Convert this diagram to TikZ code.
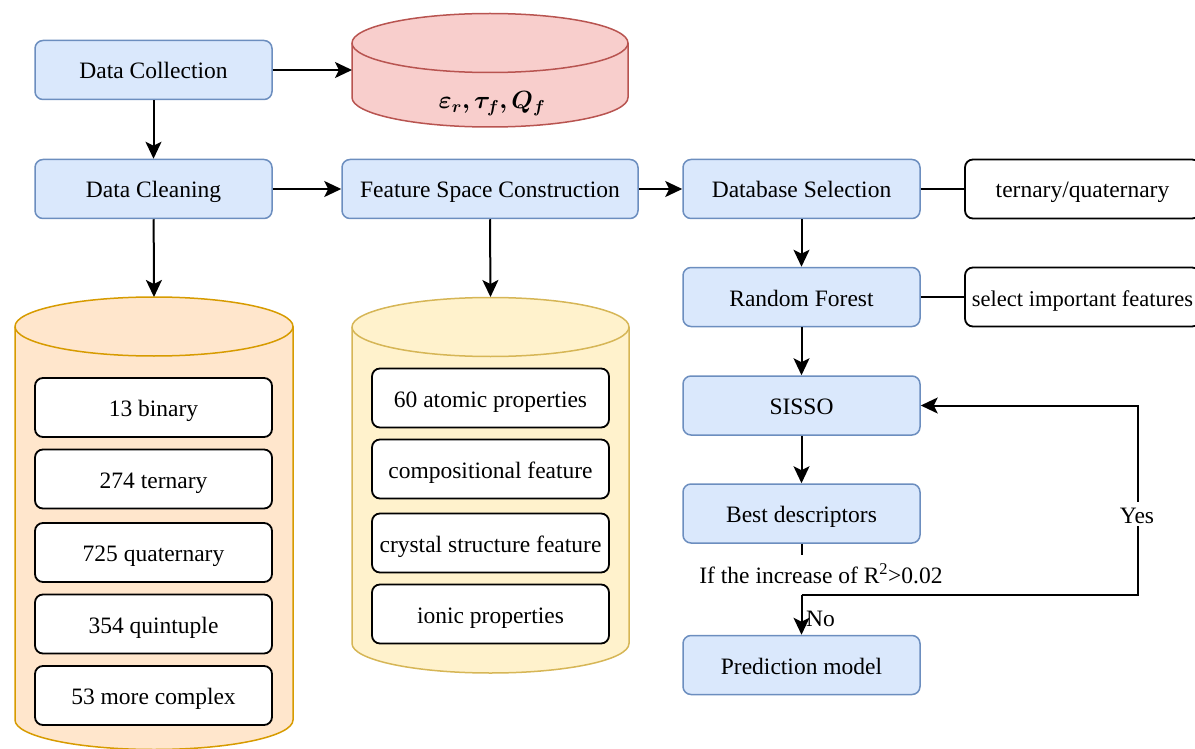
\documentclass[tikz,border=0pt]{standalone}
\usepackage{amsmath,bm}
\usepackage{fontspec}
\setmainfont{Liberation Serif}
\usetikzlibrary{arrows.meta}
\definecolor{bfill}{HTML}{DAE8FC}
\definecolor{bdraw}{HTML}{6C8EBF}
\definecolor{rfill}{HTML}{F8CECC}
\definecolor{rdraw}{HTML}{B85450}
\definecolor{ofill}{HTML}{FFE6CC}
\definecolor{odraw}{HTML}{D79B00}
\definecolor{yfill}{HTML}{FFF2CC}
\definecolor{ydraw}{HTML}{D6B656}
\tikzset{
  txt/.style={font=\fontsize{23.5}{28}\selectfont},
  bluebox/.style={txt, rounded corners=8, draw=bdraw, fill=bfill, line width=1.5,
    minimum width=237, minimum height=59, inner xsep=0, inner ysep=0,
    text height=19, text depth=1},
  whitebox/.style={txt, rounded corners=8, draw=black, fill=white, line width=1.8,
    minimum width=237, minimum height=59, inner xsep=0, inner ysep=0,
    text height=19, text depth=1},
  arr/.style={line width=2, -{Stealth[length=17pt, width=16pt, inset=4pt]}},
  ln/.style={line width=2},
}
\begin{document}
\begin{tikzpicture}[x=1pt,y=1pt]
\useasboundingbox (0,0) rectangle (1195,-749);

% cylinders
\filldraw[fill=rfill, draw=rdraw, line width=1.5] (352,-43) -- (352,-97.5)
  arc[start angle=180,end angle=360,x radius=138,y radius=29.5] -- (628,-43)
  arc[start angle=0,end angle=180,x radius=138,y radius=29.5] -- cycle;
\draw[rdraw, line width=1.5] (352,-43) arc[start angle=180,end angle=360,x radius=138,y radius=29.5];
\coordinate (redcyl) at (352,-70);
\node (redlabel) at (492,-104) {\fontsize{23.5}{28}\selectfont$\boldsymbol{\varepsilon_r,\tau_f,Q_f}$};

\filldraw[fill=ofill, draw=odraw, line width=1.5] (15,-326.5) -- (15,-720)
  arc[start angle=180,end angle=360,x radius=139,y radius=29.5] -- (293,-326.5)
  arc[start angle=0,end angle=180,x radius=139,y radius=29.5] -- cycle;
\draw[odraw, line width=1.5] (15,-326.5) arc[start angle=180,end angle=360,x radius=139,y radius=29.5];
\coordinate (orangetop) at (154,-297);

\filldraw[fill=yfill, draw=ydraw, line width=1.5] (352,-327) -- (352,-643.5)
  arc[start angle=180,end angle=360,x radius=138.5,y radius=29.5] -- (629,-327)
  arc[start angle=0,end angle=180,x radius=138.5,y radius=29.5] -- cycle;
\draw[ydraw, line width=1.5] (352,-327) arc[start angle=180,end angle=360,x radius=138.5,y radius=29.5];
\coordinate (yellowtop) at (490.5,-297);

% main boxes
\node[bluebox] (collect) at (153.5,-70) {Data Collection};
\node[bluebox] (clean) at (153.5,-189) {Data Cleaning};
\node[bluebox, minimum width=296] (fsc) at (490,-189) {Feature Space Construction};
\node[bluebox] (dbs) at (801.5,-189) {Database Selection};
\node[bluebox] (rf) at (801.5,-297) {Random Forest};
\node[bluebox] (sisso) at (801.5,-405.5) {SISSO};
\node[bluebox] (best) at (801.5,-513.5) {Best descriptors};
\node[bluebox] (pred) at (801.5,-665) {Prediction model};

\node[whitebox, minimum width=235] (tq) at (1082.5,-189) {ternary/quaternary};
\node[whitebox, minimum width=235, font=\fontsize{22.5}{27}\selectfont] (sif) at (1082.5,-297) {select important features};

% orange inner boxes
\node[whitebox] (b1) at (153.5,-407.5) {13 binary};
\node[whitebox] (b2) at (153.5,-479) {274 ternary};
\node[whitebox] (b3) at (153.5,-552.5) {725 quaternary};
\node[whitebox] (b4) at (153.5,-624) {354 quintuple};
\node[whitebox] (b5) at (153.5,-695.5) {53 more complex};

% yellow inner boxes
\node[whitebox] (f1) at (490.5,-398) {60 atomic properties};
\node[whitebox] (f2) at (490.5,-469) {compositional feature};
\node[whitebox] (f3) at (490.5,-543) {crystal structure feature};
\node[whitebox] (f4) at (490.5,-614) {ionic properties};

% connectors
\draw[arr] (collect) -- (redcyl);
\draw[arr] (collect) -- (clean);
\draw[arr] (clean) -- (fsc);
\draw[arr] (clean) -- (orangetop);
\draw[arr] (fsc) -- (dbs);
\draw[arr] (fsc.south) -- (yellowtop);
\draw[ln] (dbs) -- (tq);
\draw[ln] (rf) -- (sif);
\draw[arr] (dbs) -- (rf);
\draw[arr] (rf) -- (sisso);
\draw[arr] (sisso) -- (best);

\coordinate (dec) at (801.5,-595);
\coordinate (yc) at (1138,-595);
\draw[ln] (best) -- (dec);
\node[txt, fill=white, minimum height=40, inner ysep=0, inner xsep=1, text height=19, text depth=1] (cond) at (821,-574.5) {If the increase of R\textsuperscript{2}>0.02};
\draw[arr] (dec) -- (pred);
\draw[arr] (dec) -- (yc) |- (sisso);
\node[txt, fill=white, inner sep=2, text height=19, text depth=1] (yes) at (1137,-514) {Yes};
\node[txt, anchor=west, inner sep=0, text height=19, text depth=1] (no) at (806,-617) {No};
\end{tikzpicture}
\end{document}
